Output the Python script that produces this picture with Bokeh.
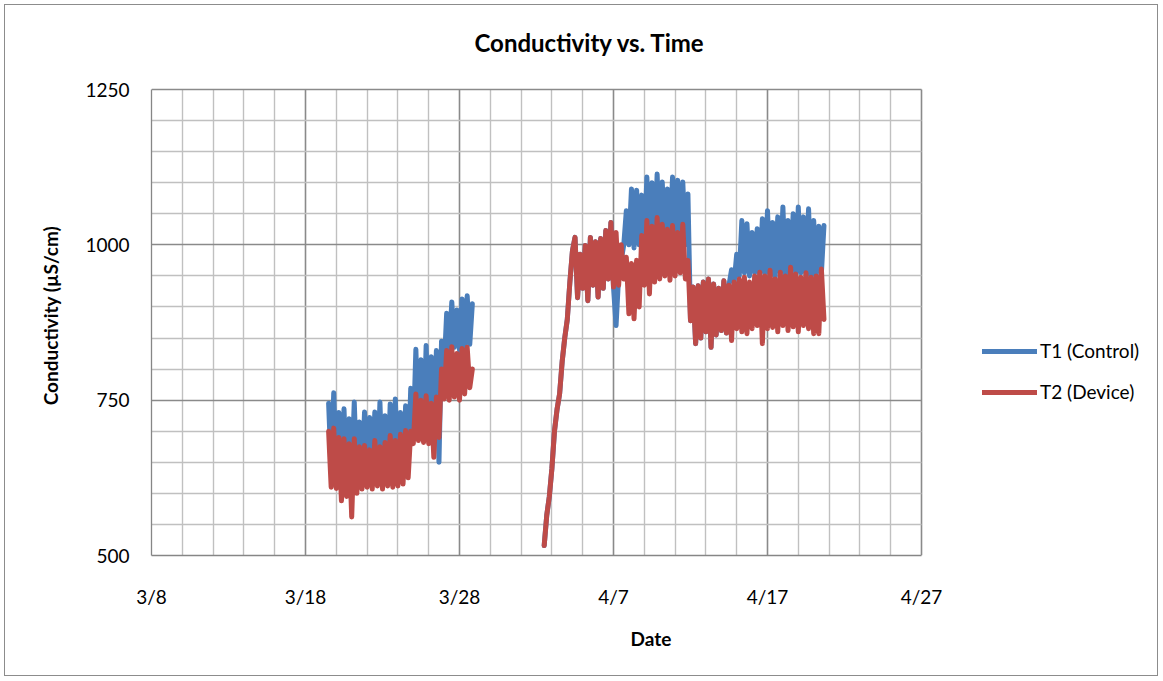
import numpy as np
import pandas as pd
from bokeh.plotting import figure
from bokeh.models import FixedTicker, Range1d, Legend, LegendItem, ColumnDataSource, Title
from bokeh.embed import file_html
from bokeh.resources import INLINE

# ---------------- data ----------------
title_text = "Conductivity vs. Time"
x_title = "Date"
y_title = "Conductivity (µS/cm)"
series_names = ["T1 (Control)", "T2 (Device)"]
series_colors = ["#4A7EBB", "#BE4B48"]

sample_step = "4h"
seg1_start = "2013-03-19 12:00"
seg2_start = "2013-04-02 12:00"

t1_seg1 = [745, 640, 762, 630, 730, 628, 736, 622, 720, 630,
           747, 625, 715, 620, 731, 625, 722, 618, 731, 622,
           747, 620, 725, 618, 744, 615, 752, 620, 730, 625,
           741, 640, 769, 690, 832, 700, 815, 690, 838, 700,
           820, 690, 830, 650, 845, 800, 890, 830, 908, 835,
           895, 830, 913, 835, 918, 840, 905]
t2_seg1 = [700, 610, 705, 608, 690, 588, 688, 595, 680, 562,
           688, 600, 675, 607, 677, 610, 670, 607, 685, 612,
           675, 607, 682, 612, 693, 610, 685, 612, 695, 615,
           701, 625, 700, 680, 760, 685, 750, 682, 757, 680,
           745, 658, 755, 690, 800, 752, 830, 750, 836, 755,
           825, 750, 833, 760, 835, 770, 800]

t1_seg2 = [516, 565, 595, 640, 700, 735, 760, 812, 850, 880,
           940, 990, 1012, 915, 985, 930, 999, 910, 1012, 935,
           1005, 916, 1010, 930, 1023, 945, 1036, 932, 870, 950,
           975, 1000, 1055, 1000, 1090, 995, 1088, 1000, 1080, 995,
           1109, 1000, 1100, 990, 1114, 1000, 1101, 995, 1090, 1000,
           1109, 1000, 1104, 995, 1101, 1000, 1082, 878, 932, 841,
           934, 850, 940, 860, 945, 835, 937, 855, 930, 862,
           942, 858, 935, 960, 940, 985, 950, 1039, 955, 1034,
           950, 1020, 955, 1026, 948, 1042, 955, 1055, 950, 1036,
           948, 1045, 955, 1061, 950, 1039, 960, 1050, 950, 1061,
           955, 1045, 950, 1058, 943, 1039, 950, 1030, 955, 1031]
t2_seg2 = [516, 565, 595, 640, 700, 735, 760, 812, 850, 880,
           940, 990, 1012, 915, 985, 930, 999, 910, 1012, 935,
           1005, 916, 1010, 930, 1023, 945, 1036, 932, 1020, 935,
           1000, 945, 980, 889, 970, 881, 975, 900, 1015, 935,
           1039, 921, 1030, 940, 1044, 945, 1033, 950, 1025, 943,
           1031, 950, 1020, 955, 1033, 945, 975, 878, 932, 841,
           934, 850, 940, 860, 945, 835, 937, 855, 930, 862,
           942, 858, 935, 846, 940, 865, 945, 860, 948, 857,
           940, 865, 950, 870, 956, 841, 950, 865, 959, 867,
           945, 860, 956, 870, 950, 862, 964, 868, 953, 860,
           948, 870, 955, 865, 948, 857, 950, 857, 961, 880]

x_start, x_end = "2013-03-08", "2013-04-27"
x_tick_dates = ["2013-03-08", "2013-03-18", "2013-03-28", "2013-04-07", "2013-04-17", "2013-04-27"]
x_tick_labels = ["3/8", "3/18", "3/28", "4/7", "4/17", "4/27"]
x_minor_every = "2D"
y_start, y_end = 500, 1250
y_ticks = [500, 750, 1000, 1250]
y_minor_every = 50


def to_ms(values):
    return pd.DatetimeIndex(values).values.astype("datetime64[ms]").astype("int64").astype(float)


def build(seg1, seg2):
    a = to_ms(pd.date_range(seg1_start, periods=len(seg1), freq=sample_step))
    b = to_ms(pd.date_range(seg2_start, periods=len(seg2), freq=sample_step))
    gap = (a[-1] + b[0]) / 2.0
    x = np.concatenate([a, [gap], b])
    y = np.concatenate([np.array(seg1, float), [np.nan], np.array(seg2, float)])
    return ColumnDataSource(dict(x=x, y=y))


FONT = "Lato"
W, H = 1152, 670
MB_LEFT, MB_TOP, MB_RIGHT, MB_BOTTOM = 146, 70, 7, 120
DATA_W, DATA_H = 770, 466        # pixel size of the gridded area
EXTRA_TOP = 84 - MB_TOP          # blank strip between the title and the 1250 line
FRAME_W = W - MB_LEFT - MB_RIGHT  # frame also holds the legend on the right

x0_ms, x1_ms = to_ms([x_start])[0], to_ms([x_end])[0]
view_x_end = x0_ms + (x1_ms - x0_ms) * FRAME_W / DATA_W
view_y_end = y_end + (y_end - y_start) * EXTRA_TOP / DATA_H

p = figure(width=W, height=H, x_axis_type="datetime", title=None,
           x_range=Range1d(x0_ms, view_x_end),
           y_range=Range1d(y_start, view_y_end),
           output_backend="svg", toolbar_location=None,
           min_border_left=MB_LEFT, min_border_right=MB_RIGHT,
           min_border_top=MB_TOP, min_border_bottom=MB_BOTTOM)

p.background_fill_color = "white"
p.border_fill_color = "white"
p.outline_line_color = None
p.styles = {"margin": "5px 0px 0px 5px", "outline": "1px solid #8c8c8c"}

# ticks & grid
major_x = to_ms(x_tick_dates)
minor_x = [v for v in to_ms(pd.date_range(x_start, x_end, freq=x_minor_every)) if v not in set(major_x)]
p.xaxis.ticker = FixedTicker(ticks=list(major_x), minor_ticks=minor_x)
p.xaxis.major_label_overrides = {float(v): lab for v, lab in zip(major_x, x_tick_labels)}
p.xaxis.bounds = (x0_ms, x1_ms)
minor_y = [v for v in range(y_start, y_end + 1, y_minor_every) if v not in y_ticks]
p.yaxis.ticker = FixedTicker(ticks=y_ticks, minor_ticks=minor_y)
p.yaxis.bounds = (y_start, y_end)

for g in (p.xgrid, p.ygrid):
    g.grid_line_color = "#8a8a8a"
    g.grid_line_width = 1.6
    g.minor_grid_line_color = "#c0c0c0"
    g.minor_grid_line_width = 1.4

p.ygrid.cross_bounds = (x0_ms, x1_ms)
p.xgrid.cross_bounds = (y_start, y_end)

for ax in (p.xaxis, p.yaxis):
    ax.axis_line_color = "#868686"
    ax.axis_line_width = 1.3
    ax.major_tick_line_color = None
    ax.minor_tick_line_color = None
    ax.major_tick_out = 0
    ax.major_tick_in = 0
    ax.minor_tick_out = 0
    ax.minor_tick_in = 0
    ax.major_label_text_font = FONT
    ax.major_label_text_font_size = "19px"
    ax.major_label_text_color = "black"
    ax.axis_label_text_font = FONT
    ax.axis_label_text_font_style = "bold"
    ax.axis_label_text_font_size = "19px"
    ax.axis_label_text_color = "black"

p.xaxis.axis_label = x_title
p.xaxis.major_label_standoff = 29
p.xaxis.axis_label_standoff = 16
p.yaxis.axis_label = y_title
p.yaxis.major_label_standoff = 22
p.yaxis.axis_label_standoff = 20

chart_title = Title(text=title_text, align="left", offset=323, standoff=38,
                    text_font=FONT, text_font_style="bold", text_font_size="24px",
                    text_color="black")
p.add_layout(chart_title, "above")

renderers = []
for seg1, seg2, color in ((t1_seg1, t1_seg2, series_colors[0]), (t2_seg1, t2_seg2, series_colors[1])):
    r = p.line("x", "y", source=build(seg1, seg2), line_color=color, line_width=5,
               line_join="round", line_cap="round")
    renderers.append(r)

legend = Legend(items=[LegendItem(label=n, renderers=[r]) for n, r in zip(series_names, renderers)],
                location=(831, 152), orientation="vertical",
                glyph_width=55, glyph_height=20, label_height=20, spacing=18,
                label_standoff=3, padding=0, margin=0,
                border_line_color=None, background_fill_alpha=0,
                label_text_font=FONT, label_text_font_size="19px", label_text_color="black")
p.add_layout(legend)

open("out.html", "w").write(file_html(p, INLINE))
